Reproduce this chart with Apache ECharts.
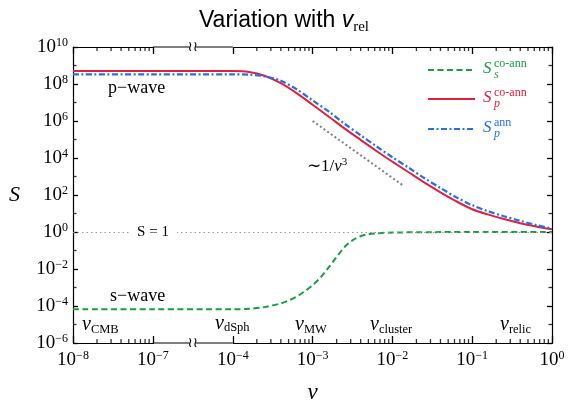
<!DOCTYPE html>
<html>
<head>
<meta charset="utf-8">
<script src="https://cdn.jsdelivr.net/npm/echarts@6/dist/echarts.min.js"></script>
<style>
  html, body { margin: 0; padding: 0; background: #fff; }
  #chart { width: 568px; height: 401px; }
</style>
</head>
<body>
<div id="chart"></div>
<script>
// velocities for the p-wave curves
const vP = [1e-8, 1e-7, 1e-4, 1.6e-4, 2.5e-4, 4e-4, 6.3e-4, 1e-3, 1.6e-3, 2.5e-3, 4e-3, 6.3e-3,
            1e-2, 1.6e-2, 2.5e-2, 4e-2, 6.3e-2, 0.1, 0.16, 0.25, 0.4, 0.63, 1];
// S_p^co-ann (red, solid)
const sPcoann = [5.0e8, 5.0e8, 5.0e8, 4.5e8, 2.8e8, 1.1e8, 3.2e7, 7.6e6, 1.7e6, 4.0e5, 9.5e4, 2.4e4,
                 6.3e3, 1.7e3, 480, 140, 46, 17, 8.7, 5.0, 3.0, 2.0, 1.4];
// S_p^ann (blue, dash-dot)
const sPann = [3.3e8, 3.3e8, 3.3e8, 3.2e8, 2.6e8, 1.5e8, 5.2e7, 1.3e7, 3.2e6, 7.2e5, 1.7e5, 4.3e4,
               1.1e4, 3.0e3, 830, 240, 76, 28, 13, 7.1, 4.0, 2.4, 1.5];
// velocities and values for S_s^co-ann (green, dashed)
const vS = [1e-8, 1e-7, 1e-4, 1.6e-4, 2.5e-4, 4e-4, 5e-4, 6.3e-4, 7.9e-4, 1e-3, 1.26e-3, 1.58e-3,
            2.0e-3, 2.5e-3, 3.16e-3, 3.98e-3, 5e-3, 6.3e-3, 1e-2, 3.2e-2, 0.1, 1];
const sScoann = [6.6e-5, 6.6e-5, 6.6e-5, 7.1e-5, 8.7e-5, 1.38e-4, 2.0e-4, 3.2e-4, 6.0e-4, 1.32e-3, 3.5e-3, 1.17e-2,
                 4.5e-2, 0.15, 0.355, 0.59, 0.76, 0.85, 0.93, 0.98, 1.0, 1.0];
// ~1/v^3 guide
const guideV = [1e-3, 1.4e-2];
const guideS = [1e6, 3e2];
// minor tick positions
const minorDecades = [1e-8, 1e-4, 1e-3, 1e-2, 1e-1];
const minorMult = [2, 3, 4, 5, 6, 7, 8, 9];
const oddDecades = [1e-5, 1e-3, 1e-1, 1e1, 1e3, 1e5, 1e7, 1e9];

const RED = '#e0203f';
const BLUE = '#2370ee';
const GREEN = '#16a040';
const SERIF = 'Liberation Serif';
const SANS = 'Liberation Sans';

const minorV = [];
minorDecades.forEach(d => minorMult.forEach(k => minorV.push(k * d)));

const pair = (xs, ys) => xs.map((x, i) => [x, ys[i]]);

// 10^n tick labels
function powLabel(value) {
  const e = Math.round(Math.log10(value));
  return '{b|10}{e|' + (e < 0 ? '\u2212' + (-e) : e) + '}';
}
const powRich = {
  b: { fontFamily: SERIF, fontSize: 19, lineHeight: 20, color: '#000', verticalAlign: 'middle' },
  e: { fontFamily: SERIF, fontSize: 12, lineHeight: 11, color: '#000', verticalAlign: 'top' }
};

function xAxisCfg(pos, labels) {
  return {
    type: 'log', logBase: 10, min: 1e-8, max: 1, position: pos,
    splitNumber: 8,
    breaks: [{ start: 1e-7, end: 1e-4, gap: '16.7%' }],
    breakArea: { show: false },
    name: labels ? 'v' : '', nameLocation: 'middle', nameGap: 38,
    nameTextStyle: { fontFamily: SERIF, fontStyle: 'italic', fontSize: 23, color: '#000' },
    axisLine: { onZero: false, lineStyle: { color: '#000', width: 1.2 } },
    axisTick: { show: true, inside: true, length: 7, lineStyle: { color: '#000', width: 1.3 } },
    axisLabel: { show: labels, margin: 7, formatter: powLabel, rich: powRich },
    splitLine: { show: false }
  };
}
function yAxisCfg(pos, labels) {
  return {
    type: 'log', logBase: 100, min: 1e-6, max: 1e10, position: pos,
    name: labels ? 'S' : '', nameLocation: 'middle', nameRotate: 0, nameGap: 53,
    nameTextStyle: { fontFamily: SERIF, fontStyle: 'italic', fontSize: 22, color: '#000' },
    axisLine: { onZero: false, lineStyle: { color: '#000', width: 1.2 } },
    axisTick: { show: true, inside: true, length: 5, lineStyle: { color: '#000', width: 1.3 } },
    axisLabel: { show: labels, margin: 5, formatter: powLabel, rich: powRich },
    splitLine: { show: false }
  };
}
function tickSeries(data, size, offset) {
  return {
    type: 'scatter', silent: true, clip: false, z: 10,
    data: data, symbol: 'rect', symbolSize: size, symbolOffset: offset,
    itemStyle: { color: '#000' }
  };
}

const chart = echarts.init(document.getElementById('chart'));

chart.setOption({
  animation: false,
  backgroundColor: '#fff',
  title: {
    text: '{a|Variation with }{v|v}{s|rel}',
    left: 'center', top: 2,
    textStyle: {
      fontWeight: 'normal',
      rich: {
        a: { fontFamily: SANS, fontWeight: 'normal', fontSize: 23, color: '#000', lineHeight: 28 },
        v: { fontFamily: SANS, fontWeight: 'normal', fontStyle: 'italic', fontSize: 23, color: '#000', lineHeight: 28 },
        s: { fontFamily: SERIF, fontWeight: 'normal', fontSize: 15, color: '#000', lineHeight: 14, verticalAlign: 'bottom' }
      }
    }
  },
  grid: { left: 73, right: 16, top: 47, bottom: 58, containLabel: false, outerBoundsMode: 'none' },
  xAxis: [xAxisCfg('bottom', true), xAxisCfg('top', false)],
  yAxis: [yAxisCfg('left', true), yAxisCfg('right', false)],
  series: [
    {
      name: 'guide', type: 'line', data: pair(guideV, guideS), symbol: 'none', silent: true,
      lineStyle: { color: '#808080', width: 2, type: [2, 2.5] }
    },
    {
      name: 'S_s^co-ann', type: 'line', data: pair(vS, sScoann), symbol: 'none', smooth: 0.3,
      lineStyle: { color: GREEN, width: 2, type: [6, 3.5] }, z: 4,
      markLine: {
        silent: true, symbol: 'none', animation: false,
        label: { show: false },
        lineStyle: { color: '#9a9a9a', width: 1, type: [1.5, 3] },
        data: [{ yAxis: 1 }]
      }
    },
    {
      name: 'S_p^co-ann', type: 'line', data: pair(vP, sPcoann), symbol: 'none', smooth: 0.3,
      lineStyle: { color: RED, width: 2 }, z: 5
    },
    {
      name: 'S_p^ann', type: 'line', data: pair(vP, sPann), symbol: 'none', smooth: 0.3,
      lineStyle: { color: BLUE, width: 2.2, type: [6, 2.5, 2, 2.5] }, z: 6
    },
    tickSeries(minorV.map(v => [v, 1e-6]), [1.3, 4], [0, -2]),
    tickSeries(minorV.map(v => [v, 1e10]), [1.3, 4], [0, 2]),
    tickSeries(oddDecades.map(s => [1e-8, s]), [3.5, 1.3], [1.75, 0]),
    tickSeries(oddDecades.map(s => [1, s]), [3.5, 1.3], [-1.75, 0])
  ]
});

// break marks, legend and text annotations
const xa = chart.convertToPixel({ xAxisIndex: 0 }, 1e-7);
const xb = chart.convertToPixel({ xAxisIndex: 0 }, 1e-4);
const yTop = chart.convertToPixel({ yAxisIndex: 0 }, 1e10);
const yBot = chart.convertToPixel({ yAxisIndex: 0 }, 1e-6);
const xMid = (xa + xb) / 2;

function breakMark(y) {
  return {
    type: 'group', x: 0, y: 0, z: 100,
    children: [
      { type: 'line', shape: { x1: xa, y1: y, x2: xb, y2: y }, style: { stroke: '#000', lineWidth: 1.2 } },
      { type: 'rect', shape: { x: xMid - 3, y: y - 2, width: 6, height: 4 }, style: { fill: '#fff' } },
      { type: 'text', style: { text: '\u2240\u2240', x: xMid, y: y, align: 'center', verticalAlign: 'middle',
        font: '14px "DejaVu Sans"', fill: '#000' } }
    ]
  };
}
function legendRow(y, color, dash, sub, sup) {
  return {
    type: 'group', x: 0, y: 0, z: 100,
    children: [
      { type: 'line', shape: { x1: 428, y1: y, x2: 475, y2: y },
        style: { stroke: color, lineWidth: 2, lineDash: dash } },
      { type: 'text', style: { text: 'S', x: 483, y: y - 1, verticalAlign: 'middle',
        font: 'italic 17px "' + SERIF + '"', fill: color } },
      { type: 'text', style: { text: sub, x: 494, y: y + 5, verticalAlign: 'middle',
        font: 'italic 12px "' + SERIF + '"', fill: color } },
      { type: 'text', style: { text: sup, x: 494, y: y - 6, verticalAlign: 'middle',
        font: '12px "' + SERIF + '"', fill: color } }
    ]
  };
}
function vLabel(x, y, sub) {
  return {
    type: 'text', z: 100,
    style: {
      text: '{v|v}{s|' + sub + '}', x: x, y: y, verticalAlign: 'middle',
      rich: {
        v: { fontFamily: SERIF, fontStyle: 'italic', fontSize: 20, lineHeight: 22, fill: '#000' },
        s: { fontFamily: SERIF, fontSize: 12.5, lineHeight: 13, verticalAlign: 'bottom', fill: '#000' }
      }
    }
  };
}
function plainText(text, x, y, size, extra) {
  return {
    type: 'text', z: 100,
    style: Object.assign({ text: text, x: x, y: y, verticalAlign: 'middle',
      font: size + 'px "' + SERIF + '"', fill: '#000' }, extra || {})
  };
}

chart.setOption({
  graphic: [
    breakMark(yTop),
    breakMark(yBot),
    legendRow(70, GREEN, [6, 3.5], 's', 'co-ann'),
    legendRow(99, RED, null, 'p', 'co-ann'),
    legendRow(129, BLUE, [6, 2.5, 2, 2.5], 'p', 'ann'),
    plainText('p\u2212wave', 108, 88, 18),
    plainText('s\u2212wave', 110, 296, 18),
    plainText('S = 1', 153, 232, 15, { align: 'center', backgroundColor: '#fff', padding: [0, 8] }),
    vLabel(82, 325, 'CMB'),
    vLabel(215, 323.5, 'dSph'),
    vLabel(295, 325, 'MW'),
    vLabel(370, 325, 'cluster'),
    vLabel(500, 325, 'relic'),
    {
      type: 'text', z: 100,
      style: {
        text: '{t|\u223c1/}{v|v}{e|3}', x: 307, y: 167, verticalAlign: 'middle',
        rich: {
          t: { fontFamily: SERIF, fontSize: 17, lineHeight: 20, fill: '#000' },
          v: { fontFamily: SERIF, fontStyle: 'italic', fontSize: 17, lineHeight: 20, fill: '#000' },
          e: { fontFamily: SERIF, fontSize: 11, lineHeight: 11, verticalAlign: 'top', fill: '#000' }
        }
      }
    }
  ]
});
</script>
</body>
</html>
